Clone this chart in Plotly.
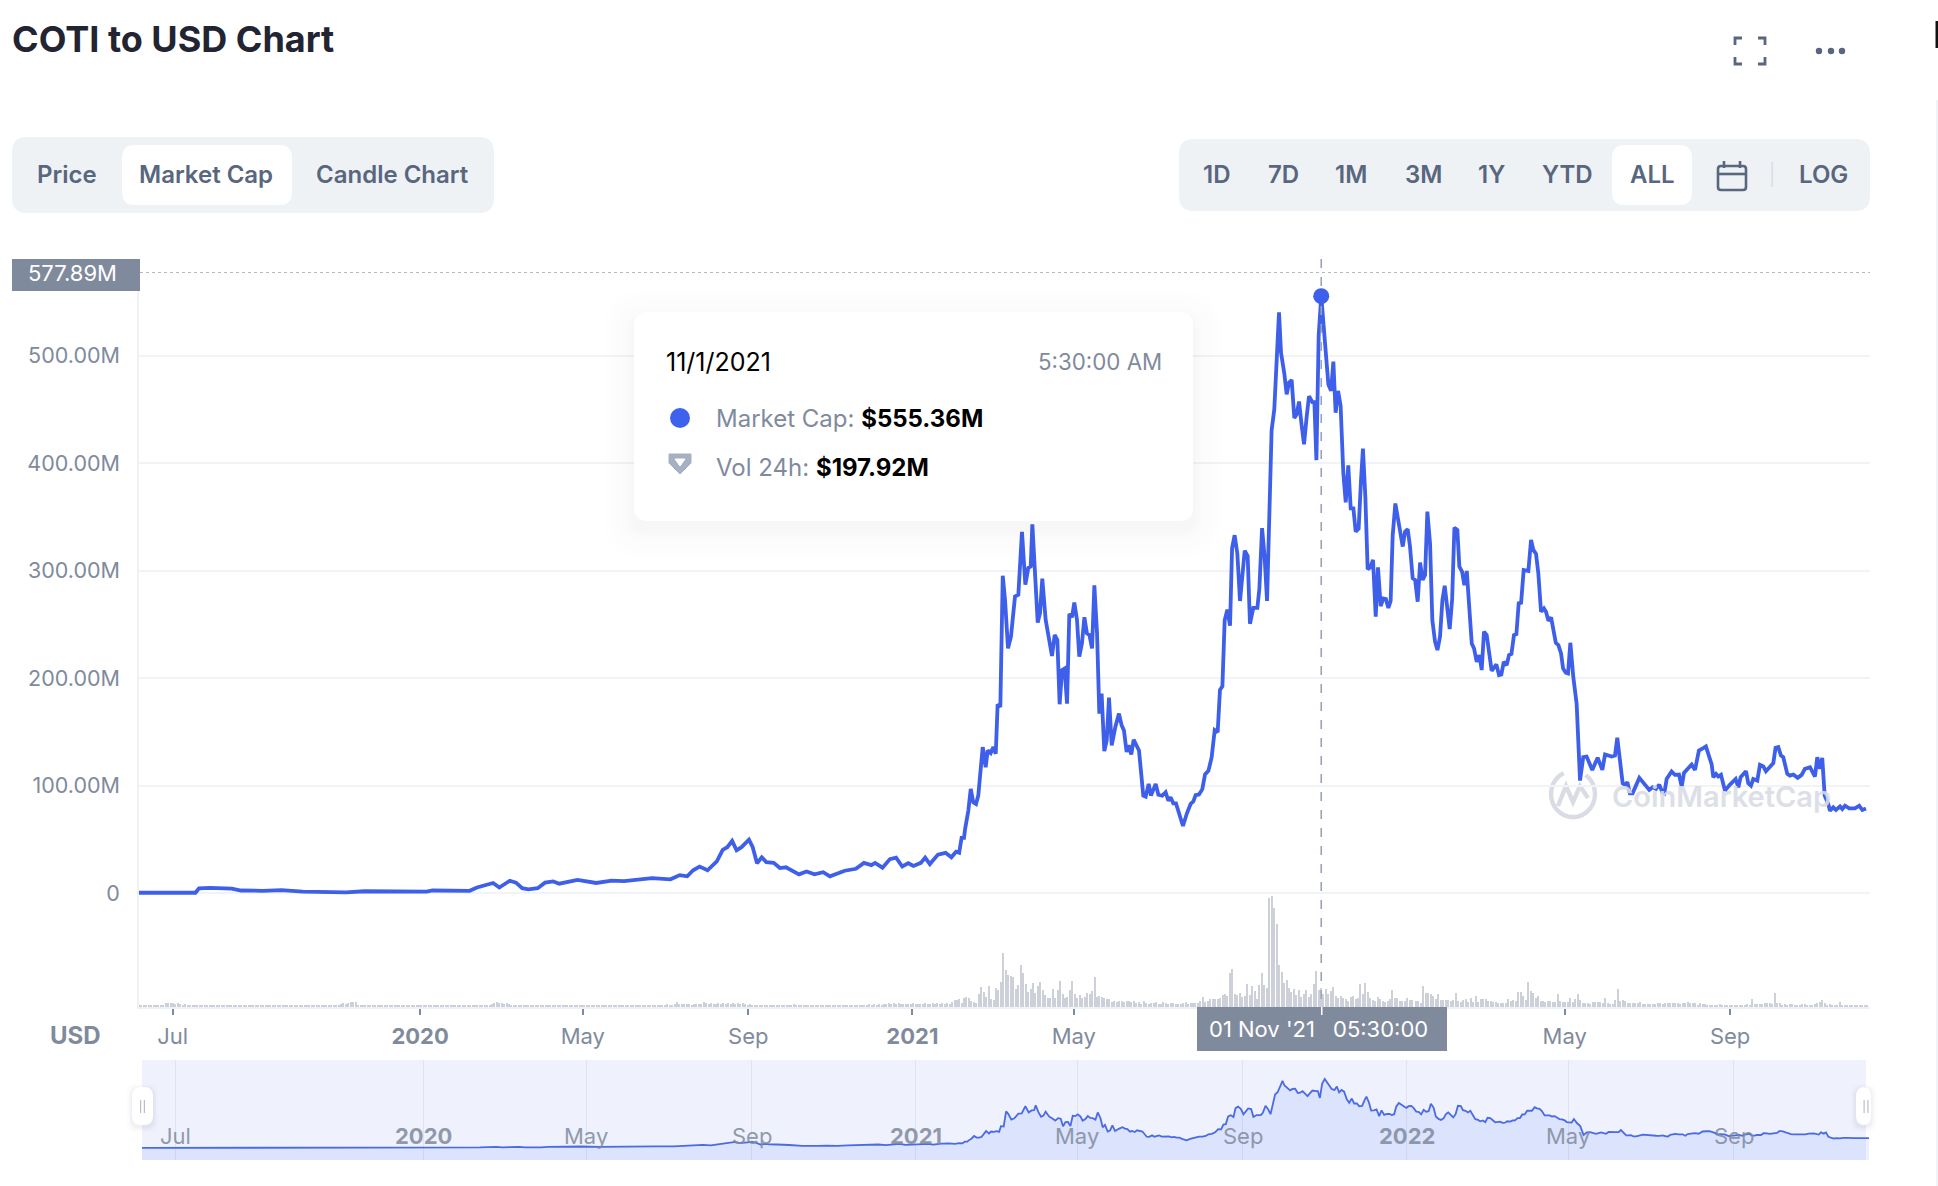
import numpy as np
import pandas as pd
import plotly.graph_objects as go

W, H = 1938, 1186

# market cap in millions, days counted from the first day on the axis
start_day = pd.Timestamp("2019-06-06")

days_2019_20 = [0, 42, 44.6, 52.8, 69, 75.8, 92, 105.7, 121.8, 153.9, 167.7, 181.5, 188.4, 213.7, 218.3, 245.8, 251.3,
                257.3, 263.3, 267.9, 275.7, 280.3, 284.9, 289.5, 296.4, 301.9, 308, 312.5, 317, 326, 340, 351.5, 360.7,
                370, 381.4, 395.2, 402, 407.6, 412, 416.8, 422.7, 429.6, 434, 437.4, 441, 444.3, 448, 453.5, 456.3,
                459.5, 463, 466.4, 471.9, 476.5, 481, 490.7, 496.3, 502.2, 508.7, 513.7, 517, 524.7, 533, 539, 544.5,
                547.3, 552.8, 558.3, 562.9, 567.5, 572, 575.8, 581.3, 584.5, 588, 594, 599.7, 604, 607.5, 609.8, 611.6,
                613.4]
cap_2019_20 = [0.3, 0.3, 4.5, 4.9, 4.2, 2.4, 2.1, 2.8, 1.4, 0.7, 1.7, 1.4, 2.1, 1.4, 2.4, 2.1, 5.2,
               6.9, 9.4, 5.2, 11.5, 9.7, 4.5, 3.5, 4.5, 9.7, 10.8, 8.7, 9.7, 12.2, 9.4, 11.5, 11.1,
               12.5, 13.9, 12.8, 16.7, 15.6, 21.2, 24.7, 21.2, 29.5, 40.3, 42.7, 48.6, 39.9, 42.7, 49.7, 42.7,
               27.8, 33.3, 28.8, 28.1, 23.3, 24, 17.4, 20.1, 17.4, 19.4, 15.6, 17.4, 20.8, 22.6, 28.1, 26,
               28.1, 23.6, 31.6, 33, 24.7, 27.8, 25.3, 28.1, 33, 27, 35.8, 37.5, 33.3, 38.5, 37.5, 51.4,
               51.4]

days_2021 = [614.2, 616.6, 618.4, 620.3, 622.3, 624, 627.3, 629.5, 631, 633.2, 635.2, 637, 638.4, 640.4, 642.2, 643.9,
             646.1, 648.3, 651.3, 653.8, 656.5, 659, 661.2, 663, 664.2, 666.2, 668.2, 669.9, 671.6, 674.1, 676.3,
             678.8, 680.8, 682.8, 684.5, 686.3, 688.2, 690, 691.7, 693.7, 695.4, 697.4, 699.1, 701.1, 702.9, 704.8,
             706.6, 708.6, 710.3, 712.3, 714, 715.7, 717.7, 719.5, 721.2, 723.2, 725.9, 728.6, 730.6, 732.3, 734.3,
             735.8, 737.8, 739.5, 743.5, 746.7, 748.5, 750.7, 752.4, 755.9, 757.9, 760.8, 763.3, 765.3, 767, 769,
             771, 773, 776.2, 779, 781.9, 783.9, 785.6, 788.1, 790.6, 792.6, 795.1, 797.5, 799.8, 802, 803.7, 805.5,
             807.2, 809.2, 811.2, 812.7, 814.6, 816.6, 818.6, 822.1, 824.3, 826, 828.5, 831.5, 833, 835, 836.9,
             838.7, 840.4, 842.1, 844.1, 845.9, 847.6, 849.1, 851.6, 853.3, 855, 857, 859, 860.7, 862.5, 864.4,
             866.2, 868.2, 869.9, 872.4, 873.9, 875.4, 877.1, 879, 880.6, 882.3, 884.3, 886.3, 888, 889.7, 891.5,
             893.4, 895.4, 897.2, 899.1, 900.9, 902.9, 904.6, 906.8, 908.6, 910, 911.8, 913.5, 915.5, 917.5, 919.5,
             921.2, 923.2, 925.2, 927.1, 928.9, 930.6, 932.1, 934.1, 935.8]
cap_2021 = [59.5, 76.6, 96.9, 84.4, 82.9, 90.7, 135.8, 117.1, 132.7, 130.2, 135.8, 129.6, 175.7, 173.2, 295.3, 272.9,
            227.7, 238.6, 276, 277.6, 336.1, 286.9, 302.5, 304, 343, 288.5, 251.7, 260.4, 292.5, 254.2, 238.6,
            220.6, 240.2, 235.5, 175.7, 207.5, 209, 176.3, 259.8, 256.7, 270.4, 254.2, 219.9, 232.4, 256.7, 241.7,
            240.2, 227.7, 286.3, 241.7, 167, 185.7, 132.1, 142, 181.9, 137.4, 154.5, 167, 156, 151.4, 131.2,
            137.4, 129, 142.7, 132.7, 90.7, 89.7, 101.6, 90.7, 101.6, 91.6, 90.7, 93.8, 86, 89.1, 83.5,
            83.5, 74.1, 62.4, 73.8, 83, 85.3, 91.2, 91.8, 96.7, 110.5, 113.7, 126.2, 151.7, 149.8, 189, 192.3,
            253.8, 263.7, 248.9, 321, 333, 316, 271.8, 318.7, 313.7, 250.6, 265.3, 265.3, 283.3, 339.6, 312.8,
            271.8, 352, 430.6, 450.2, 496, 540.3, 502.6, 483, 464, 474.8, 477.4, 442, 445.3, 457.4, 435.5,
            417.5, 443.7, 462.4, 456.8, 456.8, 402.8, 519, 555.4, 532, 505.9, 473.2, 467.3, 494.5, 447, 467.3,
            453.5, 391.3, 363.5, 397.9, 358, 358, 336.3, 339, 384.8, 413.6, 368.4, 301.3, 303, 310, 257.1,
            303, 267, 274.1, 273.5, 265.3, 271.8, 332.4, 362.5, 348.8]

days_2022 = [937.6, 939.6, 941.3, 943.3, 945, 947, 948.8, 950.7, 952.5, 954.4, 956.2, 957.9, 959.9, 961.6, 963.6, 965.4,
             967.3, 969.1, 970.8, 972.8, 974.5, 976.3, 978, 980.2, 981.7, 983.7, 985.4, 987.2, 988.9, 990.9, 992.6,
             994.6, 996.6, 998.3, 1000, 1002, 1005.7, 1009.2, 1011.2, 1012.9, 1014.7, 1016.9, 1018.6, 1020.4, 1022.3,
             1024.1, 1025.8, 1027.6, 1029.5, 1033, 1035, 1036.7, 1038.7, 1040.4, 1042.4, 1044.6, 1046.1, 1047.9,
             1049.9, 1051.6, 1053.4, 1055.3, 1057.3, 1058.8, 1060.8, 1062.5, 1064.2, 1066.4, 1068.9, 1071.4, 1073.8,
             1076.3, 1080.5, 1084.5, 1088, 1090, 1094.9, 1097.4, 1099.1, 1101.1, 1103.1, 1104.8, 1106.6, 1108.5,
             1110.5, 1115.5, 1118.5, 1122.9, 1125.4, 1127.9, 1130.3, 1132.6, 1134.1, 1135.8, 1139.5, 1142, 1145, 1147,
             1148.7, 1151.2, 1154.4, 1156.9, 1159.8, 1163, 1165, 1169.3, 1170.5, 1172.5, 1174.2, 1176.2, 1179.2,
             1182.9, 1187.1, 1189.1, 1190.8, 1194.8, 1196.5, 1198.5, 1200.2, 1203.2, 1205.2, 1207.7, 1209.6, 1215.1,
             1216.8, 1218.8, 1220.8, 1222.5, 1225.5, 1227.5, 1230, 1233.2, 1236.2, 1238.6, 1242.4, 1246.1, 1247.8,
             1249.8, 1251.5, 1253.3, 1256, 1257.2, 1259.7, 1261.7, 1264.7, 1266.4, 1268.4, 1271.6, 1275.8, 1279,
             1281.3, 1284]
cap_2022 = [338, 322.4, 336.3, 338.5, 322.4, 292.9, 291.3, 271.1, 307.5, 291.3, 296, 355, 325.5, 254, 233.9, 226.1,
            238.5, 272.7, 286, 266.5, 245.7, 272.7, 340, 337.9, 303.7, 299.1, 286.6, 299.7, 263.4, 232.3, 227.6,
            215.2, 221.4, 207.5, 243.2, 240.1, 206.8, 212.7, 202.8, 203.4, 215.2, 212.1, 221.4, 222.4, 240.1,
            241, 269.6, 270.2, 300.6, 299.7, 328.6, 319.3, 315.5, 297.5, 261.8, 264.9, 261.8, 253.4,
            256.5, 244.7, 232.9, 230.7, 223, 209, 205, 204.3, 232.9, 201, 176, 104.7, 126.5,
            127, 114.6, 125.9, 114.6, 129, 127.1, 128, 144.5, 123.4, 102.2, 100.9, 103.1, 92.8,
            92.8, 107.2, 103.1, 96, 98.4, 96.9, 100.9, 93.8, 92.8, 106.2, 113.1, 110, 110.3, 99,
            111.8, 115, 119.6, 114.6, 132.7, 134.9, 136.4, 119.6, 107.8, 110.9, 108.4, 110, 95.3,
            100.9, 106.2, 98.4, 107.8, 113.4, 102.2, 100, 106.2, 104.7, 119.3, 117.8, 113.4, 120.9,
            135.2, 135.8, 128, 126.5, 110.9, 109.3, 110.3, 107.2, 110, 115.6, 117.1, 108.4, 126.5,
            115.6, 125.9, 90.7, 82.9, 76.6, 79.8, 77.3, 80.7, 78.2, 81.3, 78.8, 78.8, 81.3,
            77.3, 78.8]

# 24h volume in millions
vol_early = [12, 12, 13, 12, 12, 13, 12, 12, 13, 12, 12, 20, 24, 20, 24, 18, 23, 16, 13, 14,
             12, 13, 12, 12, 13, 12, 13, 12, 12, 13, 12, 12, 13, 13, 12, 12, 13, 12, 13, 12,
             12, 13, 12, 12, 13, 12, 12, 13, 12, 13, 13, 12, 12, 13, 12, 12, 13, 12, 13, 12,
             13, 12, 12, 13, 12, 13, 12, 12, 13, 12, 12, 13, 13, 12, 12, 13, 12, 12, 13, 12,
             13, 12, 13, 18, 21, 17, 22, 26, 28, 26, 13, 12, 12, 13, 12, 13, 12, 12, 13, 12,
             12, 13, 12, 13, 12, 12, 13, 12, 12, 13, 13, 12, 12, 13, 12, 13, 12, 12, 13, 12,
             12, 13, 12, 12, 13, 12, 13, 12, 12, 13, 12, 12, 13, 13, 12, 12, 13, 12, 12, 13,
             12, 13, 12, 12, 13, 14, 22, 27, 20, 24, 17, 20, 14, 13, 12, 12, 13, 12, 13, 12,
             12, 13, 12, 12, 13, 12, 13, 12, 12, 13, 12, 12, 13, 13, 12, 12, 13, 12, 12, 13,
             12, 13, 12, 12, 13, 12, 12, 13, 12, 13, 13, 12, 12, 13, 12, 12, 13, 12, 13, 12,
             12, 13, 12, 13, 12, 12, 13, 12, 12, 13, 12, 13, 12, 12, 13, 12, 13, 14, 13, 12,
             14, 30, 17, 14, 18, 15, 14, 13, 16, 14, 18, 16, 28, 20, 17, 24, 18, 16, 22, 16,
             20, 17, 24, 18, 22, 16, 24, 15, 22, 14, 13, 14, 13, 12, 13, 12, 12, 13, 12, 13,
             12, 12, 13, 12, 13, 13, 12, 12, 13, 16, 13, 12, 13, 12, 12, 13, 12, 13, 12, 12,
             13, 12, 12, 13, 12, 13, 12, 12, 13, 12, 12, 13, 13, 12, 12, 13, 12, 13, 12, 12,
             18, 13, 14, 13, 17, 13, 16, 15, 20, 17, 22, 18, 20, 16, 18, 15, 17, 14, 20, 16,
             17, 19, 16, 24, 18, 16, 21, 18, 24, 19, 20, 17, 22, 18, 30, 36, 40, 42]
vol_mid = [20, 48, 53, 48, 31, 29, 22, 70, 108, 81, 53, 113, 44, 38, 102, 92, 135, 295, 201, 174,
           170, 163, 99, 119, 229, 185, 124, 81, 97, 130, 75, 113, 135, 92, 64, 48, 48, 97, 48, 92,
           141, 70, 48, 53, 92, 141, 70, 48, 64, 48, 53, 75, 70, 86, 163, 53, 59, 53, 48, 42,
           42, 26, 31, 26, 31, 31, 26, 31, 31, 26, 31, 20, 26, 15, 31, 20, 15, 20, 20, 26,
           15, 15, 26, 20, 15, 20, 20, 15, 15, 15, 20, 26, 15, 20, 20, 20, 20, 31, 53, 26,
           31, 42, 42, 42, 42, 48, 64, 70, 59, 185, 207, 70, 64, 75, 53, 59, 124, 64, 113, 86,
           42, 119, 185, 119, 102, 597, 608, 542, 454, 229, 190, 130, 146, 102, 81, 97, 64, 92, 53, 70,
           92, 53, 70, 124, 198, 92, 102, 70, 97, 70, 86, 108, 59, 48, 59, 48, 42, 31, 53, 59,
           42, 48, 124, 70, 130, 81, 48, 37, 31, 53, 42, 31, 26, 31, 42, 92, 48, 48, 31, 31,
           31, 48, 37, 37]
vol_late = [31, 31, 22, 113, 77, 77, 70, 60, 42, 70, 38, 38, 38, 38, 31, 38, 77, 31, 26, 38,
            42, 27, 48, 27, 60, 26, 42, 42, 42, 33, 33, 27, 27, 22, 22, 22, 22, 46, 33, 38,
            33, 82, 82, 60, 38, 135, 88, 77, 49, 60, 33, 33, 27, 33, 33, 27, 27, 70, 31, 27,
            27, 27, 48, 27, 42, 70, 38, 22, 22, 22, 15, 27, 27, 27, 27, 22, 48, 22, 15, 15,
            37, 97, 33, 38, 33, 22, 22, 22, 22, 22, 27, 16, 16, 15, 15, 15, 15, 22, 22, 16,
            22, 22, 22, 22, 22, 22, 15, 22, 22, 27, 22, 22, 22, 11, 22, 16, 15, 9, 9, 9,
            9, 9, 15, 9, 9, 9, 9, 9, 9, 9, 9, 9, 11, 15, 9, 42, 15, 15, 15, 15,
            20, 20, 20, 15, 77, 20, 20, 9, 15, 11, 15, 15, 9, 9, 11, 15, 15, 11, 9, 11,
            15, 20, 27, 37, 20, 9, 15, 11, 9, 11, 26, 9, 9, 9, 9, 9, 9, 9, 9, 9,
            9, 9]

hover_date = "2021-11-01"
hover_cap = 555.36
high_cap = 577.89

y_ticks = [0, 100, 200, 300, 400, 500]
y_labels = ["0", "100.00M", "200.00M", "300.00M", "400.00M", "500.00M"]

# Sep 2021 and 2022 sit under the crosshair date box on the main axis
x_ticks = ["2019-07-01", "2020-01-01", "2020-05-01", "2020-09-01", "2021-01-01", "2021-05-01", "2022-05-01",
           "2022-09-01"]
x_labels = ["Jul", "<b>2020</b>", "May", "Sep", "<b>2021</b>", "May", "May", "Sep"]
nav_ticks = ["2019-07-01", "2020-01-01", "2020-05-01", "2020-09-01", "2021-01-01", "2021-05-01", "2021-09-01",
             "2022-01-01", "2022-05-01", "2022-09-01"]
nav_labels = ["Jul", "<b>2020</b>", "May", "Sep", "<b>2021</b>", "May", "Sep", "<b>2022</b>", "May", "Sep"]

tabs = ["Price", "Market Cap", "Candle Chart"]
tab_x = [67, 206, 392]
ranges = ["1D", "7D", "1M", "3M", "1Y", "YTD", "ALL", "LOG"]
range_x = [1216, 1283, 1351, 1423, 1491, 1567, 1652, 1823]

BLUE = "#3e5fe9"
GRAY = "#808a9d"
TEXT = "#58667e"
PANEL = "#eff2f5"
GRID = "#f1f3f6"
BAR = "#cdd0d8"


def dates(days):
    return start_day + pd.to_timedelta(days, unit="D")


def px(x):
    return x / W


def py(y):
    return 1 - y / H


def rrect(x0, y0, x1, y1, r, fill, layer="below", line=None):
    p = (f"M{px(x0 + r)},{py(y0)} L{px(x1 - r)},{py(y0)} Q{px(x1)},{py(y0)} {px(x1)},{py(y0 + r)} "
         f"L{px(x1)},{py(y1 - r)} Q{px(x1)},{py(y1)} {px(x1 - r)},{py(y1)} L{px(x0 + r)},{py(y1)} "
         f"Q{px(x0)},{py(y1)} {px(x0)},{py(y1 - r)} L{px(x0)},{py(y0 + r)} Q{px(x0)},{py(y0)} {px(x0 + r)},{py(y0)} Z")
    return dict(type="path", xref="paper", yref="paper", path=p, fillcolor=fill, layer=layer,
                line=dict(width=0) if line is None else line)


def poly(points, color, width, layer="above", close=False, fill=None):
    p = "M" + " L".join(f"{px(a)},{py(b)}" for a, b in points) + (" Z" if close else "")
    s = dict(type="path", xref="paper", yref="paper", path=p, layer=layer, line=dict(color=color, width=width))
    if fill:
        s["fillcolor"] = fill
    return s


def box(x0, y0, x1, y1, fill, layer="above"):
    return dict(type="rect", xref="paper", yref="paper", x0=px(x0), x1=px(x1), y0=py(y0), y1=py(y1),
                fillcolor=fill, line=dict(width=0), layer=layer)


def dot(x, y, r, fill, layer="above"):
    return dict(type="circle", xref="paper", yref="paper", x0=px(x - r), x1=px(x + r), y0=py(y - r), y1=py(y + r),
                fillcolor=fill, line=dict(width=0), layer=layer)


def label(x, y, s, size, color, anchor="center", weight=400, opacity=1):
    return dict(x=px(x), y=py(y), xref="paper", yref="paper", text=s, showarrow=False, xanchor=anchor,
                yanchor="middle", opacity=opacity, font=dict(family="Inter", size=size, color=color, weight=weight))


line_days = days_2019_20 + days_2021 + days_2022
line_caps = cap_2019_20 + cap_2021 + cap_2022
line_x = dates(line_days)

fig = go.Figure()
fig.add_trace(go.Bar(x=pd.date_range(dates(0), dates(610), periods=len(vol_early)), y=vol_early,
                     width=0.8 * 86400000, marker=dict(color=BAR, line=dict(width=0)), xaxis="x", yaxis="y2"))
fig.add_trace(go.Bar(x=pd.date_range(dates(611.6), dates(946.6), periods=len(vol_mid)), y=vol_mid,
                     width=0.8 * 86400000, marker=dict(color=BAR, line=dict(width=0)), xaxis="x", yaxis="y2"))
fig.add_trace(go.Bar(x=pd.date_range(dates(949.4), dates(1284.8), periods=len(vol_late)), y=vol_late,
                     width=0.8 * 86400000, marker=dict(color=BAR, line=dict(width=0)), xaxis="x", yaxis="y2"))
fig.add_trace(go.Scatter(x=line_x, y=line_caps, mode="lines", line=dict(color=BLUE, width=3.8), xaxis="x", yaxis="y"))
fig.add_trace(go.Scatter(x=[hover_date], y=[hover_cap], mode="markers", marker=dict(color=BLUE, size=16),
                         xaxis="x", yaxis="y"))

# navigator under the chart
fig.add_trace(go.Scatter(x=[line_x[0], line_x[-1]], y=[-96.5, -96.5], mode="lines", line=dict(width=0),
                         xaxis="x3", yaxis="y3"))
fig.add_trace(go.Scatter(x=line_x, y=line_caps, mode="lines", line=dict(color="#4a6ae6", width=1.8),
                         fill="tonexty", fillcolor="rgba(56,97,251,0.10)", xaxis="x3", yaxis="y3"))

shapes = [
    rrect(12, 137, 494, 213, 15, PANEL),
    rrect(122, 145, 292, 205, 13, "#ffffff"),
    rrect(1179, 139, 1870, 211, 15, PANEL),
    rrect(1612, 145, 1692, 205, 13, "#ffffff"),
    box(1771.5, 162, 1772.8, 187, "#d5d9e0", "below"),
    box(142, 1060, 1866, 1160, "#eff2fd", "below"),
    # high line and crosshair, the crosshair stops around the hover marker
    dict(type="line", xref="paper", yref="y", x0=px(140), x1=px(1870), y0=high_cap, y1=high_cap, layer="above",
         line=dict(color="#9aa3b5", width=1.6, dash="dot")),
    dict(type="line", xref="x", yref="paper", x0=hover_date, x1=hover_date, y0=py(259), y1=py(288), layer="above",
         line=dict(color="#9aa3b5", width=1.6, dash="dash")),
    dict(type="line", xref="x", yref="paper", x0=hover_date, x1=hover_date, y0=py(306), y1=py(1007), layer="above",
         line=dict(color="#9aa3b5", width=1.6, dash="dash")),
    box(12, 259, 140, 291, GRAY),
    box(1197, 1007, 1447, 1051, GRAY),
    box(1321, 1007, 1322.5, 1015, "#ffffff"),
    # far right page edge
    box(1935.5, 21, 1938, 48, "#111111"),
    box(1936, 100, 1938, 1186, "#f2f3f6", "below"),
]

# soft shadow of the tooltip
for grow, alpha in [(30, 0.006), (24, 0.007), (18, 0.008), (12, 0.009), (7, 0.01), (3, 0.012)]:
    shapes.append(rrect(634 - grow, 312 - grow + 8, 1193 + grow, 521 + grow + 8, 14 + grow,
                        f"rgba(88,102,126,{alpha})", "above"))
shapes.append(rrect(634, 312, 1193, 521, 14, "#ffffff", "above"))
shapes.append(dot(680, 418, 10, "#3f62ee"))
shapes.append(poly([(669, 454), (691, 454), (691, 463), (680, 474), (669, 463)], "#a6b0c3", 1, close=True,
                   fill="#a6b0c3"))
shapes.append(poly([(675, 459), (685, 459), (680, 466)], "#ffffff", 1, close=True, fill="#ffffff"))

# fullscreen corners
for xs, ys in [((1735, 1735, 1742), (45, 38, 38)), ((1758, 1765, 1765), (38, 38, 45)),
               ((1735, 1735, 1742), (57, 64, 64)), ((1758, 1765, 1765), (64, 64, 57))]:
    shapes.append(poly(list(zip(xs, ys)), TEXT, 2.8))
for cx in [1819, 1831, 1842]:
    shapes.append(dot(cx, 51, 3.2, TEXT))

# calendar
shapes.append(rrect(1718, 166, 1746, 190, 3, "rgba(0,0,0,0)", "above", dict(color=TEXT, width=2.6)))
shapes.append(poly([(1718, 174), (1746, 174)], TEXT, 2.6))
shapes.append(poly([(1724, 161), (1724, 168)], TEXT, 2.6))
shapes.append(poly([(1740, 161), (1740, 168)], TEXT, 2.6))

# navigator handles
for x0, x1, cx in [(132, 153, 142.5), (1856, 1871, 1866)]:
    for grow, alpha in [(5, 0.02), (3, 0.03), (1.5, 0.04)]:
        shapes.append(rrect(x0 - grow, 1087 - grow + 2, x1 + grow, 1125 + grow + 2, 9, f"rgba(88,102,126,{alpha})",
                            "above"))
    shapes.append(rrect(x0, 1087, x1, 1125, 9, "#ffffff", "above"))
    shapes.append(box(cx - 2.5, 1100, cx - 1.3, 1113, "#b8bfcc"))
    shapes.append(box(cx + 1.3, 1100, cx + 2.5, 1113, "#b8bfcc"))

# watermark logo
t = np.radians(np.arange(35, 345, 10))
logo_ring = [(1573 + 22 * np.sin(a), 794 - 22 * np.cos(a) * 1.05) for a in t]
shapes.append(poly(logo_ring, "#d9dce5", 4.4, "below"))
shapes.append(poly([(1558, 806), (1566, 786), (1573, 802), (1580, 786), (1588, 798)], "#d9dce5", 4.4, "below"))

annos = [
    label(10, 39, "COTI to USD Chart", 36, "#222531", "left", 700),
    label(75, 1035, "USD", 24, GRAY, "center", 700),
    label(72, 273, f"{high_cap:.2f}M", 22, "#ffffff", "center"),
    label(1207, 1029, "01 Nov '21", 22, "#ffffff", "left"),
    label(1430, 1029, "05:30:00", 22, "#ffffff", "right"),
    label(664, 362, "11/1/2021", 25, "#000000", "left"),
    label(1164, 362, "5:30:00 AM", 22.3, GRAY, "right"),
    label(714, 418, f"Market Cap: <span style='color:#000000'><b>${hover_cap:.2f}M</b></span>", 24, GRAY, "left"),
    label(714, 467, "Vol 24h: <span style='color:#000000'><b>$197.92M</b></span>", 24, GRAY, "left"),
    label(1610, 796, "CoinMarketCap", 29, "#d9dce5", "left", 600, 0.9),
]
for name, cx in zip(tabs, tab_x):
    annos.append(label(cx, 175, name, 24, TEXT, "center", 600))
for name, cx in zip(ranges, range_x):
    annos.append(label(cx, 175, name, 24, TEXT, "center", 600))
for val, name in zip(nav_ticks, nav_labels):
    annos.append(dict(x=val, xref="x3", y=py(1136), yref="paper", text=name, showarrow=False, yanchor="middle",
                      xanchor="center", opacity=0.85, font=dict(family="Inter", size=22, color=GRAY)))

fig.update_layout(
    width=W, height=H, autosize=False, margin=dict(l=0, r=0, t=0, b=0), paper_bgcolor="#ffffff",
    plot_bgcolor="rgba(0,0,0,0)", showlegend=False, hovermode=False, bargap=0, barmode="overlay",
    font=dict(family="Inter", color=GRAY),
    shapes=shapes, annotations=annos,
    xaxis=dict(domain=[px(139), px(1870)], range=[dates(0), dates(1287)], anchor="y", tickvals=x_ticks,
               ticktext=x_labels, tickangle=0, ticks="outside", ticklen=6, tickwidth=1.7, tickcolor=GRAY,
               tickfont=dict(size=22, color=GRAY), ticklabelstandoff=3, showgrid=False, showline=True,
               linecolor=PANEL, linewidth=1.5, zeroline=False),
    yaxis=dict(domain=[py(1007), py(272)], range=[-106, high_cap], tickvals=y_ticks, ticktext=y_labels,
               tickfont=dict(size=21.5, color=GRAY), ticklabelstandoff=13, gridcolor=GRID, gridwidth=1.6,
               zeroline=False, showline=True, linecolor=PANEL, linewidth=1.5, ticks=""),
    yaxis2=dict(domain=[py(1007), py(893)], range=[0, 627], visible=False, anchor="x"),
    xaxis3=dict(domain=[px(142), px(1869)], range=[dates(0), dates(1283.5)], anchor="y3", tickvals=nav_ticks,
                showticklabels=False, ticks="", showgrid=True, gridcolor="#dfe3ef", gridwidth=1, zeroline=False,
                showline=False),
    yaxis3=dict(domain=[py(1160), py(1060)], range=[-96.5, 708], visible=False, anchor="x3"),
)

fig.write_html("out.html", config=dict(displayModeBar=False),
               post_script="document.body.style.margin='0';document.body.style.overflow='hidden';")
